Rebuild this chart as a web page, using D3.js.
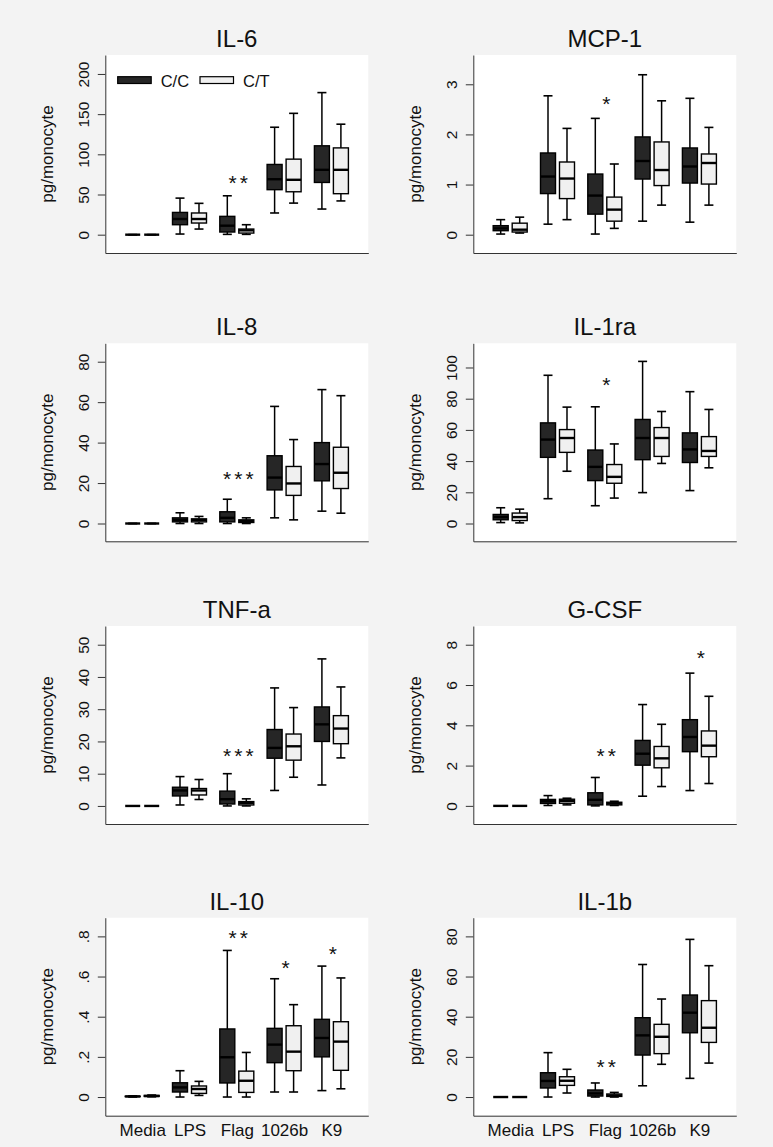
<!DOCTYPE html>
<html><head><meta charset="utf-8">
<script src="https://cdn.jsdelivr.net/npm/d3@7"></script>
<style>
body{margin:0;background:#f3f3f3}
svg{display:block}
text{font-family:"Liberation Sans",Arial,Helvetica,sans-serif;fill:#111}
</style>
</head><body><svg id="c" width="773" height="1147"></svg>
<script>
// ---- categories ----
const groups = ["Media","LPS","Flag","1026b","K9"];
const genotypes = ["C/C","C/T"];
const panelTitles = ["IL-6","MCP-1","IL-8","IL-1ra","TNF-a","G-CSF","IL-10","IL-1b"];
const yTitle = "pg/monocyte";

// ---- series values: [min, q1, median, q3, max] per group ----
const il6CC = [[0,0,0,0,0],[0.8,12.4,19.5,27.7,45.5],[0.4,3.3,11.2,22.8,48.4],[27,56,69,87.4,133.7],[31.9,65,80.7,110.6,176.8]];
const il6CT = [[0,0,0,0,0],[7,14.5,19.5,27,39],[0.4,2,5.4,7,12.4],[39.3,53.4,68.3,94,151],[42,51,80.7,108,137.5]];
const mcp1CC = [[0.013,0.08,0.126,0.18,0.30],[0.21,0.82,1.16,1.63,2.77],[0.013,0.41,0.78,1.21,2.32],[0.27,1.11,1.47,1.95,3.19],[0.25,1.03,1.36,1.73,2.72]];
const mcp1CT = [[0.033,0.053,0.10,0.23,0.35],[0.30,0.72,1.12,1.45,2.12],[0.126,0.27,0.50,0.75,1.41],[0.59,0.98,1.29,1.85,2.67],[0.59,1.01,1.43,1.61,2.14]];
const il8CC = [[0,0,0,0,0],[0,0.8,1.8,2.8,5.3],[0,0.8,2.8,5.8,12],[2.8,16.6,22.7,33.5,57.9],[6.1,21.1,29.4,40,66.2]];
const il8CT = [[0,0,0,0,0],[0,0.8,1.7,2.3,3.5],[0,0.5,1.3,1.8,2.8],[1.8,13.9,19.8,28.2,41.5],[5.1,17.3,25.1,37.7,63.2]];
const il1raCC = [[0.6,2.4,4.1,5.8,10.1],[15.9,42.4,53.8,64.5,95],[11.4,27.5,36.3,47.1,74.8],[19.8,40.9,54.8,66.7,103.9],[21.1,39.1,47.5,58.1,84.5]];
const il1raCT = [[0.4,1.9,4.1,6.7,9.2],[33.5,45.6,54.8,60.2,74.6],[16.3,25.8,29.9,37.8,51],[38.5,43,54.8,61.5,71.8],[35.7,43,46.5,55.7,73.1]];
const tnfCC = [[0,0,0,0,0],[0.3,3.1,4.8,5.8,9.1],[0,0.6,2.1,4.6,10],[4.8,14.8,18,23.7,36.6],[6.5,20,25.3,30.7,45.6]];
const tnfCT = [[0,0,0,0,0],[2.0,3.4,4.8,5.4,8.2],[0,0.3,0.9,1.35,2.2],[8.9,14.2,18.5,22.3,30.5],[14.9,19.3,24,28,36.9]];
const gcsfCC = [[0,0,0,0,0],[0.02,0.12,0.23,0.32,0.51],[0,0.05,0.3,0.65,1.41],[0.48,2.02,2.59,3.25,5.03],[0.76,2.69,3.42,4.28,6.59]];
const gcsfCT = [[0,0,0,0,0],[0.05,0.13,0.25,0.33,0.38],[0.02,0.05,0.12,0.18,0.23],[0.96,1.89,2.36,2.95,4.05],[1.11,2.44,2.99,3.72,5.44]];
const il10CC = [[0,0.002,0.003,0.004,0.006],[0,0.025,0.048,0.071,0.131],[0,0.07,0.198,0.339,0.730],[0.025,0.171,0.261,0.342,0.589],[0.032,0.2,0.294,0.387,0.652]];
const il10CT = [[0.001,0.003,0.005,0.008,0.01],[0.008,0.018,0.04,0.055,0.078],[0,0.023,0.081,0.129,0.222],[0.025,0.131,0.226,0.355,0.46],[0.041,0.133,0.276,0.375,0.593]];
const il1bCC = [[0,0,0,0,0],[0,4.5,8,12.1,22.1],[0,0.5,1.8,3.5,7],[5.6,20.9,30.7,39.5,66],[9.3,32,42,50.8,78.5]];
const il1bCT = [[0,0,0,0,0],[2,5.8,8.1,10.1,13.8],[0,0.3,0.8,1.5,2.3],[16.3,21.6,30,36.2,48.8],[16.9,27.2,34.5,48,65.4]];

// ---- axis ranges and ticks ----
const yRanges = [[-22.8,223.6],[-0.365,3.584],[-8.8,89.1],[-11.4,115.5],[-5.6,55.8],[-0.9,8.93],[-0.093,0.893],[-9.3,89.3]];
const il6Ticks = [0,50,100,150,200];
const mcp1Ticks = [0,1,2,3];
const il8Ticks = [0,20,40,60,80];
const il1raTicks = [0,20,40,60,80,100];
const tnfTicks = [0,10,20,30,40,50];
const gcsfTicks = [0,2,4,6,8];
const il10Ticks = [0,0.2,0.4,0.6,0.8];
const il10TickLabels = ["0",".2",".4",".6",".8"];
const il1bTicks = [0,20,40,60,80];

// ---- significance marks: [group, label, value] ----
const il6Stars = [["Flag","**",69.6]];
const mcp1Stars = [["Flag","*",2.69]];
const il8Stars = [["Flag","***",24.4]];
const il1raStars = [["Flag","*",91.8]];
const tnfStars = [["Flag","***",16.9]];
const gcsfStars = [["Flag","**",2.7],["K9","*",7.57]];
const il10Stars = [["Flag","**",0.815],["1026b","*",0.666],["K9","*",0.737]];
const il1bStars = [["Flag","**",17.4]];

const seriesCC = [il6CC,mcp1CC,il8CC,il1raCC,tnfCC,gcsfCC,il10CC,il1bCC];
const seriesCT = [il6CT,mcp1CT,il8CT,il1raCT,tnfCT,gcsfCT,il10CT,il1bCT];
const tickSets = [il6Ticks,mcp1Ticks,il8Ticks,il1raTicks,tnfTicks,gcsfTicks,il10Ticks,il1bTicks];
const tickLabelSets = [null,null,null,null,null,null,il10TickLabels,null];
const starSets = [il6Stars,mcp1Stars,il8Stars,il1raStars,tnfStars,gcsfStars,il10Stars,il1bStars];

// ---- layout / style ----
const colX = [105.3, 473.3];
const rowY = [55, 343.3, 626, 917.7];
const plotW = 263, plotH = 198;
const fillCC = "#262626", fillCT = "#f0f0f0";
const axisColor = "#333";

const svg = d3.select("#c");
svg.append("rect").attr("width",773).attr("height",1147).attr("fill","#f3f3f3");

const x = d3.scalePoint().domain(groups).range([0, plotW]).padding(0.78);
const sub = d3.scaleBand().domain(genotypes).range([-17, 17]).paddingInner(0.21);
const bw = sub.bandwidth();

panelTitles.forEach((title, i) => {
  const col = i % 2, row = Math.floor(i / 2);
  const g = svg.append("g").attr("transform", `translate(${colX[col]},${rowY[row]})`);
  g.append("rect").attr("width", plotW).attr("height", plotH).attr("fill", "#fff");

  const y = d3.scaleLinear().domain(yRanges[i]).range([plotH, 0]);

  // title
  g.append("text").attr("x", plotW / 2).attr("y", -8).attr("text-anchor", "middle")
    .style("font-size", "24px").text(title);

  // y axis
  const labels = tickLabelSets[i];
  const ya = g.append("g").call(
    d3.axisLeft(y).tickValues(tickSets[i]).tickSizeInner(7.5).tickSizeOuter(0)
      .tickFormat((d, k) => labels ? labels[k] : d3.format("d")(d)));
  ya.select(".domain").attr("stroke", axisColor).attr("stroke-width", 1);
  ya.selectAll(".tick line").attr("stroke", axisColor).attr("stroke-width", 1);
  ya.selectAll(".tick text")
    .attr("x", null).attr("y", null).attr("dy", null)
    .attr("text-anchor", "middle")
    .attr("transform", "translate(-16.5,0) rotate(-90)")
    .style("font-size", "15.5px").style("font-family", "'Liberation Sans',Arial,sans-serif").attr("fill", "#111");

  g.append("text").attr("transform", `translate(-52,${plotH / 2}) rotate(-90)`)
    .attr("text-anchor", "middle").style("font-size", "17px").text(yTitle);

  // x axis
  const xa = g.append("g").attr("transform", `translate(0,${plotH})`).call(
    d3.axisBottom(x).tickSize(0).tickPadding(8).tickFormat(row === 3 ? (d => d) : (() => "")));
  xa.select(".domain").attr("stroke", axisColor).attr("stroke-width", 1);
  xa.selectAll(".tick text").style("font-size", "17px")
    .style("font-family", "'Liberation Sans',Arial,sans-serif").attr("fill", "#111");

  // boxes
  [seriesCC[i], seriesCT[i]].forEach((series, gi) => {
    const geno = genotypes[gi];
    const fill = gi === 0 ? fillCC : fillCT;
    series.forEach((v, k) => {
      const cx = x(groups[k]) + sub(geno) + bw / 2;
      const [mn, q1, md, q3, mx] = v;
      const bg = g.append("g");
      bg.append("line").attr("x1", cx).attr("x2", cx).attr("y1", y(q3)).attr("y2", y(mx))
        .attr("stroke", "#000").attr("stroke-width", 1.5);
      bg.append("line").attr("x1", cx).attr("x2", cx).attr("y1", y(q1)).attr("y2", y(mn))
        .attr("stroke", "#000").attr("stroke-width", 1.5);
      [mx, mn].forEach(val => bg.append("line").attr("x1", cx - 4.5).attr("x2", cx + 4.5)
        .attr("y1", y(val)).attr("y2", y(val)).attr("stroke", "#000").attr("stroke-width", 1.6));
      bg.append("rect").attr("x", cx - bw / 2).attr("width", bw)
        .attr("y", y(q3)).attr("height", Math.max(0, y(q1) - y(q3)))
        .attr("fill", fill).attr("stroke", "#000").attr("stroke-width", 1.4);
      bg.append("line").attr("x1", cx - bw / 2).attr("x2", cx + bw / 2)
        .attr("y1", y(md)).attr("y2", y(md)).attr("stroke", "#000").attr("stroke-width", 2.4);
    });
  });

  // stars
  starSets[i].forEach(([grp, lab, val]) => {
    g.append("text").attr("x", x(grp) + 1.5 + 1.5).attr("y", y(val)).attr("dy", "0.55em")
      .attr("text-anchor", "middle").style("font-size", "21px").style("letter-spacing", "3px")
      .text(lab);
  });

  // legend (first panel only)
  if (i === 0) {
    const lg = g.append("g");
    const lx = [12.4, 94.7];
    genotypes.forEach((geno, gi) => {
      lg.append("rect").attr("x", lx[gi]).attr("y", 21.7).attr("width", 33.5).attr("height", 6.8)
        .attr("fill", gi === 0 ? fillCC : fillCT).attr("stroke", "#000").attr("stroke-width", 1.2);
      lg.append("text").attr("x", lx[gi] + 43).attr("y", 31.5).style("font-size", "16.5px").text(geno);
    });
  }
});
</script>
</body></html>
